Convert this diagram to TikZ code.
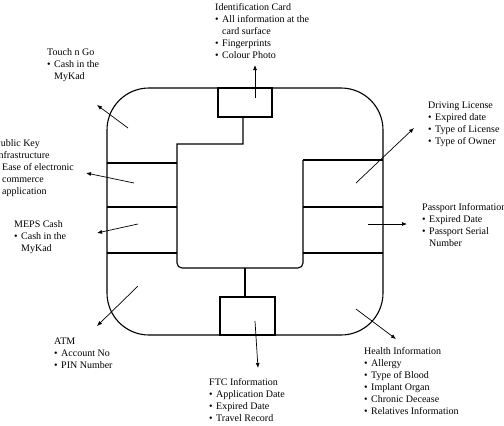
\documentclass[tikz,border=0pt]{standalone}
\usepackage{fontspec}
\setmainfont{Liberation Serif}
\usetikzlibrary{arrows.meta}
\newcommand{\bl}{\makebox[7pt][l]{\textbullet}}
\newcommand{\ct}{\hspace*{7pt}}
\begin{document}
\begin{tikzpicture}[
  x=1pt,y=-1pt,
  lb/.style={anchor=north west,inner sep=0pt,align=left},
  c/.style={line width=1.1pt},
  a/.style={-{Latex[length=5pt,width=4pt]},line width=0.7pt}
]
\clip (0,0) rectangle (504,426);
\draw[c,rounded corners=42pt] (107,88) rectangle (383,335);
\draw[c] (218,88) rectangle (272,117);
\draw[c] (220,297) rectangle (275,335);
\draw[c] (243,117) -- (243,144) -- (177,144) [rounded corners=5pt] -- (177,268)
  -- (303,268) [sharp corners] -- (303,160);
\draw[c] (245,268) -- (245,297);
\draw[c] (107,163) -- (177,163) (107,207) -- (177,207) (107,253) -- (177,253);
\draw[c] (303,160) -- (383,160) (303,207) -- (383,207) (303,253) -- (383,253);

\node[lb] (idc) at (215,3) {Identification Card\\ \bl All information at the\\ \ct card surface\\ \bl Fingerprints\\ \bl Colour Photo};
\node[lb] (tng) at (47,48) {Touch n Go\\ \bl Cash in the\\ \ct MyKad};
\node[lb] (pki) at (-5,139) {Public Key\\ Infrastructure\\ \bl Ease of electronic\\ \ct commerce\\ \ct application};
\node[lb] (meps) at (14,220) {MEPS Cash\\ \bl Cash in the\\ \ct MyKad};
\node[lb] (atm) at (54,338) {ATM\\ \bl Account No\\ \bl PIN Number};
\node[lb] (ftc) at (209,378) {FTC Information\\ \bl Application Date\\ \bl Expired Date\\ \bl Travel Record};
\node[lb] (hlt) at (364,347) {Health Information\\ \bl Allergy\\ \bl Type of Blood\\ \bl Implant Organ\\ \bl Chronic Decease\\ \bl Relatives Information};
\node[lb] (pas) at (422,203) {Passport Information\\ \bl Expired Date\\ \bl Passport Serial\\ \ct Number};
\node[lb] (drv) at (428,102) {Driving License\\ \bl Expired date\\ \bl Type of License\\ \bl Type of Owner};

\coordinate (idS) at (255,98);   \coordinate (idE) at (255,65);
\coordinate (tngS) at (128,128); \coordinate (tngE) at (97,105);
\coordinate (pkiS) at (134,183); \coordinate (pkiE) at (86,173);
\coordinate (mepsS) at (138,224); \coordinate (mepsE) at (97,233);
\coordinate (atmS) at (138,286); \coordinate (atmE) at (97,326);
\coordinate (ftcS) at (255,321); \coordinate (ftcE) at (258,368);
\coordinate (hltS) at (356,309); \coordinate (hltE) at (396,339);
\coordinate (pasS) at (368,224); \coordinate (pasE) at (407,224);
\coordinate (drvS) at (356,183); \coordinate (drvE) at (414,128);
\foreach \k in {id,tng,pki,meps,atm,ftc,hlt,pas,drv}
  \draw[a] (\k S) -- (\k E);
\end{tikzpicture}
\end{document}
